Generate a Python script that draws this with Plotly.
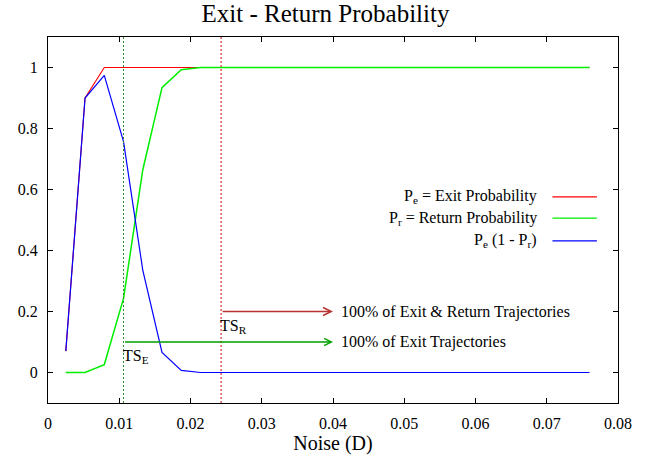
import plotly.graph_objects as go

# Noise levels (D) and measured probabilities
noise = [0.0025, 0.0052, 0.0079, 0.0106, 0.0133, 0.0160, 0.0187, 0.0214, 0.0241, 0.0760]
p_exit = [0.07, 0.90, 1.00, 1.00, 1.00, 1.00, 1.00, 1.00, 1.00, 1.00]
p_return = [0.00, 0.00, 0.026, 0.243, 0.664, 0.934, 0.993, 1.00, 1.00, 1.00]
p_exit_no_return = [0.07, 0.90, 0.974, 0.757, 0.336, 0.066, 0.007, 0.00, 0.00, 0.00]

# Thresholds
ts_exit = 0.0106
ts_return = 0.0243

x_ticks = [0, 0.01, 0.02, 0.03, 0.04, 0.05, 0.06, 0.07, 0.08]
y_ticks = [0, 0.2, 0.4, 0.6, 0.8, 1]

series = [
    ("P<sub>e</sub> = Exit Probability", p_exit, "#ff0000", 1.1),
    ("P<sub>r</sub> = Return Probability", p_return, "#00ee00", 1.5),
    ("P<sub>e</sub> (1 - P<sub>r</sub>)", p_exit_no_return, "#0000ff", 1.2),
]

FONT = "Liberation Serif"

fig = go.Figure()
for name, vals, col, lw in series:
    fig.add_trace(go.Scatter(x=noise, y=vals, mode="lines", name=name,
                             line=dict(color=col, width=lw), showlegend=False))

shapes = [
    dict(type="line", xref="x", yref="paper", x0=ts_exit, x1=ts_exit, y0=0, y1=1,
         line=dict(color="#2f8f2f", width=1, dash="2px,2px")),
    dict(type="line", xref="x", yref="paper", x0=ts_return, x1=ts_return, y0=0, y1=1,
         line=dict(color="#e06464", width=1.6, dash="2px,2px")),
]

annotations = [
    dict(x=0.04, y=0.2, ax=ts_return, ay=0.2, xref="x", yref="y", axref="x", ayref="y",
         showarrow=True, arrowhead=5, arrowsize=1.0, arrowwidth=1.6, arrowcolor="#b83232",
         text="", standoff=0, startstandoff=0),
    dict(x=0.04, y=0.1, ax=ts_exit, ay=0.1, xref="x", yref="y", axref="x", ayref="y",
         showarrow=True, arrowhead=5, arrowsize=1.1, arrowwidth=1.3, arrowcolor="#00a000",
         text="", standoff=0, startstandoff=0),
    dict(x=0.0409, y=0.2, xref="x", yref="y", xanchor="left", yanchor="middle",
         text="100% of Exit &amp; Return Trajectories", showarrow=False,
         font=dict(size=16, color="black", family=FONT)),
    dict(x=0.0409, y=0.1, xref="x", yref="y", xanchor="left", yanchor="middle",
         text="100% of Exit Trajectories", showarrow=False,
         font=dict(size=16, color="black", family=FONT)),
    dict(x=ts_return, y=0.19, xref="x", yref="y", xanchor="left", yanchor="top",
         text="TS<sub>R</sub>", showarrow=False, xshift=-3,
         font=dict(size=16, color="black", family=FONT)),
    dict(x=ts_exit, y=0.09, xref="x", yref="y", xanchor="left", yanchor="top",
         text="TS<sub>E</sub>", showarrow=False, xshift=-3,
         font=dict(size=16, color="black", family=FONT)),
]

# Key drawn at the right of the plot: right-aligned labels with line samples
key_y = [0.563, 0.505, 0.443]
for (name, _, col, _lw), ky in zip(series, key_y):
    annotations.append(dict(x=0.862, y=ky, xref="paper", yref="paper", xanchor="right",
                            yanchor="middle", text=name, showarrow=False,
                            font=dict(size=16, color="black", family=FONT)))
    shapes.append(dict(type="line", xref="paper", yref="paper", x0=0.885, x1=0.963,
                       y0=ky, y1=ky, line=dict(color=col, width=1.2)))

axis_common = dict(showline=True, mirror="allticks", linecolor="black", linewidth=1,
                   ticks="inside", ticklen=5, tickcolor="black", showgrid=False,
                   zeroline=False, tickfont=dict(size=16, family=FONT, color="black"))

fig.update_layout(
    width=651, height=462,
    margin=dict(l=48, r=33, t=37, b=59),
    paper_bgcolor="white", plot_bgcolor="white",
    font=dict(family=FONT),
    title=dict(text="Exit - Return Probability", x=0.5, xanchor="center",
               y=0.971, yanchor="middle",
               font=dict(size=25, family=FONT, color="black")),
    xaxis=dict(range=[0, 0.08], tickvals=x_ticks, ticktext=[str(v) for v in x_ticks],
               ticklabelstandoff=6,
               title=dict(text="Noise (D)", font=dict(size=20, family=FONT, color="black"),
                          standoff=3),
               **axis_common),
    yaxis=dict(range=[-0.1, 1.1], tickvals=y_ticks, ticktext=[str(v) for v in y_ticks],
               ticklabelstandoff=6,
               **axis_common),
    shapes=shapes,
    annotations=annotations,
)

fig.write_html("out.html")
